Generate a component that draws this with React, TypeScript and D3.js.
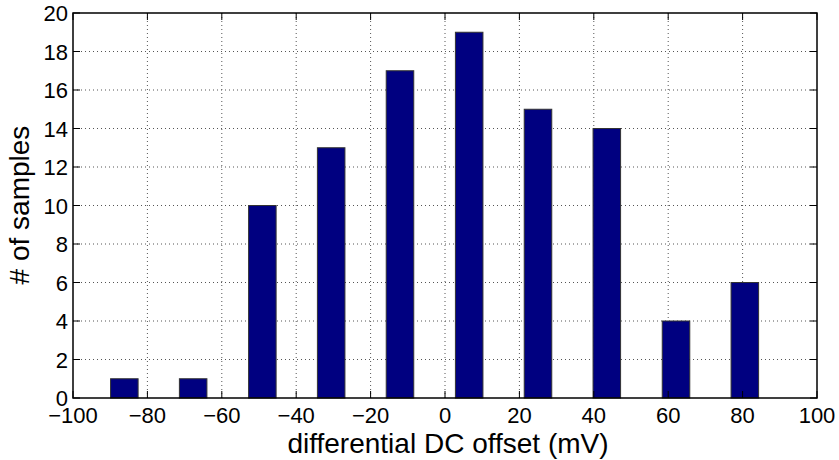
import React from "react";
import * as d3 from "d3";

const binCenters = [-86.2, -67.7, -49.1, -30.6, -12.1, 6.5, 25.0, 43.5, 62.1, 80.6];
const counts = [1, 1, 10, 13, 17, 19, 15, 14, 4, 6];
const xTicks = [-100, -80, -60, -40, -20, 0, 20, 40, 60, 80, 100];
const yTicks = [0, 2, 4, 6, 8, 10, 12, 14, 16, 18, 20];
const barWidthUnits = 7.4;

const W = 839, H = 460;
const left = 73, right = 817, top = 13, bottom = 398;

export default function App() {
  const x = d3.scaleLinear().domain([-100, 100]).range([left, right]);
  const y = d3.scaleLinear().domain([0, 20]).range([bottom, top]);
  const font = "'Liberation Sans', Arial, Helvetica, sans-serif";
  const fmt = (v: number) => (v < 0 ? "\u2212" + Math.abs(v) : String(v));
  return (
    <svg width={W} height={H} style={{ position: "absolute", left: 0, top: 0, background: "#fff" }}>
      <rect x={0} y={0} width={W} height={H} fill="#fff" />
      {/* grid */}
      {xTicks.slice(1, -1).map((t) => (
        <line key={"gx" + t} x1={x(t)} x2={x(t)} y1={top} y2={bottom} stroke="#555" strokeWidth={1} strokeDasharray="1,3" />
      ))}
      {yTicks.slice(1, -1).map((t) => (
        <line key={"gy" + t} x1={left} x2={right} y1={y(t)} y2={y(t)} stroke="#555" strokeWidth={1} strokeDasharray="1,3" />
      ))}
      {/* bars */}
      {binCenters.map((c, i) => (
        <rect
          key={"b" + i}
          x={x(c - barWidthUnits / 2)}
          y={y(counts[i])}
          width={x(c + barWidthUnits / 2) - x(c - barWidthUnits / 2)}
          height={y(0) - y(counts[i])}
          fill="#000080"
          stroke="#333"
          strokeWidth={1}
        />
      ))}
      {/* ticks */}
      {xTicks.map((t) => (
        <g key={"tx" + t}>
          <line x1={x(t)} x2={x(t)} y1={bottom} y2={bottom - 7} stroke="#000" />
          <line x1={x(t)} x2={x(t)} y1={top} y2={top + 7} stroke="#000" />
          <text x={x(t)} y={423} textAnchor="middle" fontFamily={font} fontSize={22}>{fmt(t)}</text>
        </g>
      ))}
      {yTicks.map((t) => (
        <g key={"ty" + t}>
          <line x1={left} x2={left + 7} y1={y(t)} y2={y(t)} stroke="#000" />
          <line x1={right} x2={right - 7} y1={y(t)} y2={y(t)} stroke="#000" />
          <text x={68} y={y(t) + 8} textAnchor="end" fontFamily={font} fontSize={22}>{fmt(t)}</text>
        </g>
      ))}
      {/* box */}
      <rect x={left} y={top} width={right - left} height={bottom - top} fill="none" stroke="#000" strokeWidth={1.5} />
      {/* labels */}
      <text x={448} y={453} textAnchor="middle" fontFamily={font} fontSize={28}>differential DC offset (mV)</text>
      <text transform={`translate(29,205) rotate(-90)`} textAnchor="middle" fontFamily={font} fontSize={28}># of samples</text>
    </svg>
  );
}
